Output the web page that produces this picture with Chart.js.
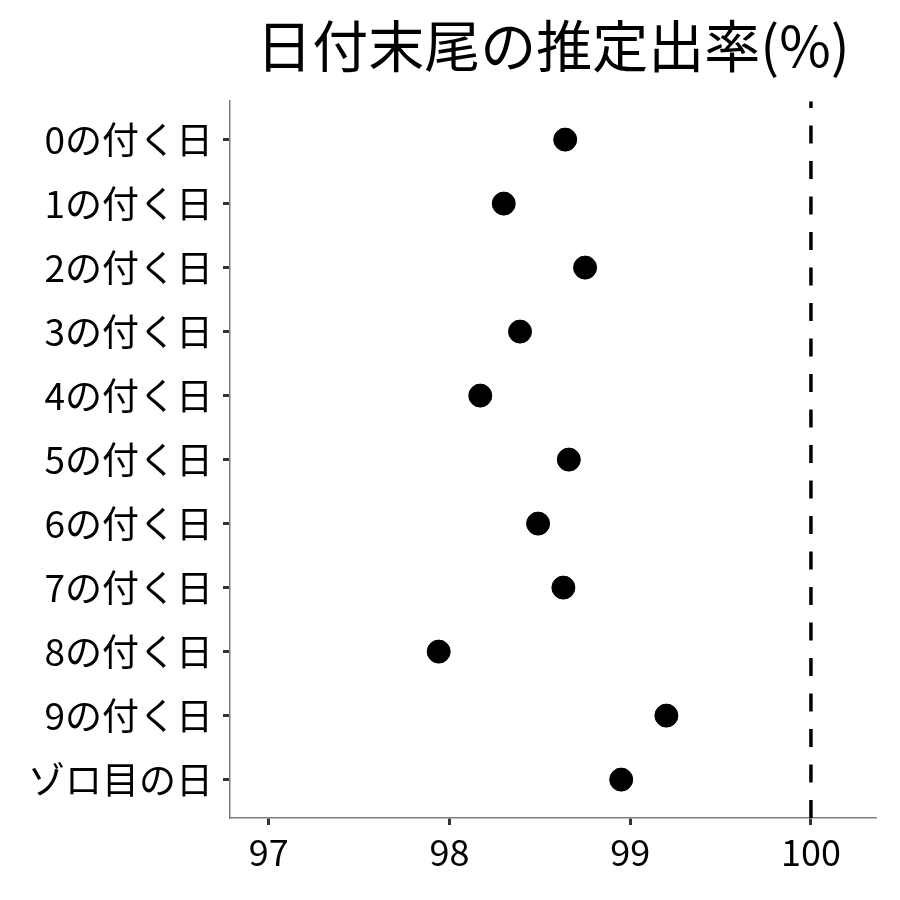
<!DOCTYPE html>
<html>
<head>
<meta charset="utf-8">
<script src="https://cdn.jsdelivr.net/npm/chart.js@4"></script>
<style>
  body { margin: 0; background: #fff; }
  #wrap { width: 900px; height: 900px; }
</style>
</head>
<body>
<div id="wrap"><canvas id="chart" width="900" height="900"></canvas></div>
<script>
// data
const categories = ['0の付く日', '1の付く日', '2の付く日', '3の付く日', '4の付く日',
  '5の付く日', '6の付く日', '7の付く日', '8の付く日', '9の付く日', 'ゾロ目の日']
const rates = [98.64, 98.30, 98.75, 98.39, 98.17, 98.66, 98.49, 98.63, 97.94, 99.20, 98.95]
const xTicks = [97, 98, 99, 100]
const refLine = 100
const titleText = '日付末尾の推定出率(%)'

const FONT = "'Noto Sans CJK JP', 'Noto Sans', sans-serif"
const yMin = -0.6
const yMax = categories.length - 1 + 0.6

const points = rates.map((v, i) => ({ x: v, y: i }))

new Chart(document.getElementById('chart'), {
  type: 'scatter',
  data: {
    datasets: [
      {
        // dashed reference line, drawn bottom -> top
        data: [{ x: refLine, y: yMax }, { x: refLine, y: yMin }],
        showLine: true,
        borderColor: '#000',
        borderWidth: 3.5,
        borderDash: [18, 17.5],
        pointRadius: 0,
        order: 2,
      },
      {
        data: points,
        backgroundColor: '#000',
        borderColor: '#000',
        pointRadius: 11.5,
        pointHoverRadius: 11.5,
        order: 1,
      },
    ],
  },
  options: {
    responsive: false,
    animation: false,
    layout: { padding: { top: 12, left: 30, right: 24, bottom: 20 } },
    scales: {
      x: {
        type: 'linear',
        min: 96.785,
        max: 100.36,
        afterBuildTicks: s => { s.ticks = xTicks.map(v => ({ value: v })) },
        afterFit: s => { s.height = 62 },
        border: { color: '#7f7f7f', width: 1.5 },
        grid: { drawOnChartArea: false, drawTicks: true, tickLength: 7, tickColor: '#333', tickWidth: 3 },
        ticks: { color: '#000', padding: 6, font: { family: FONT, size: 36 } },
      },
      y: {
        type: 'linear',
        reverse: true,
        min: yMin,
        max: yMax,
        afterBuildTicks: s => { s.ticks = categories.map((c, i) => ({ value: i })) },
        afterFit: s => { s.width = 200 },
        border: { color: '#7f7f7f', width: 1.5 },
        grid: { drawOnChartArea: false, drawTicks: true, tickLength: 7, tickColor: '#333', tickWidth: 3 },
        ticks: {
          color: '#000',
          padding: 10,
          font: { family: FONT, size: 37 },
          callback: v => categories[v],
        },
      },
    },
    plugins: {
      legend: { display: false },
      tooltip: { enabled: false },
      title: {
        display: true,
        text: titleText,
        fullSize: false,
        color: '#000',
        font: { family: FONT, size: 56, weight: 'normal' },
        padding: { top: 0, bottom: 22 },
      },
    },
  },
})
</script>
</body>
</html>
